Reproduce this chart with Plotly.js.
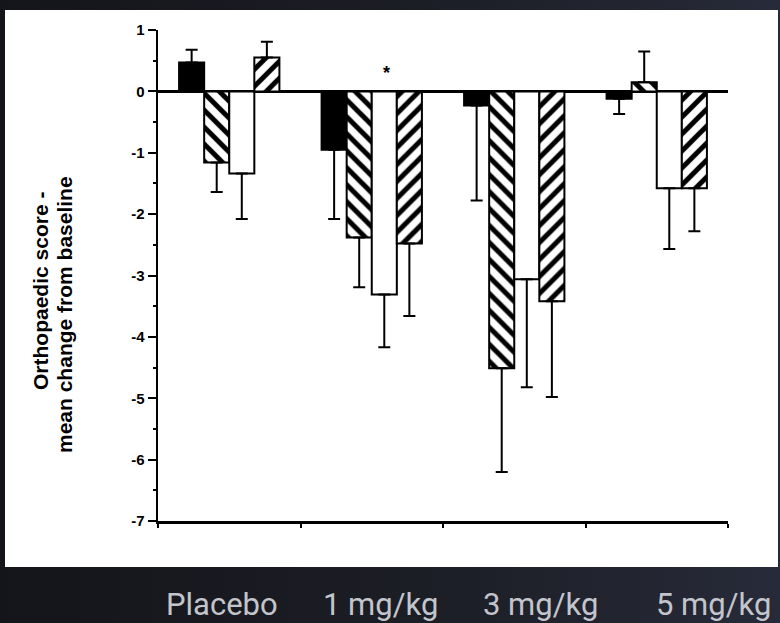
<!DOCTYPE html>
<html>
<head>
<meta charset="utf-8">
<script src="https://cdn.plot.ly/plotly-3.0.1.min.js"></script>
<style>
  html, body { margin: 0; padding: 0; }
  body {
    width: 780px; height: 623px; overflow: hidden;
    background: linear-gradient(to right, #14151a 0%, #1c1e26 55%, #272a38 100%);
  }
  #chart { width: 780px; height: 623px; }
</style>
</head>
<body>
<div id="chart"></div>
<script>
// Dose groups along the x axis
const categories = ['Placebo', '1 mg/kg', '3 mg/kg', '5 mg/kg'];

// Mean change from baseline in orthopaedic score, four bars per group
const solidValues   = [0.47, -0.95, -0.23, -0.12];
const solidErrors   = [0.21, 1.13, 1.55, 0.25];

const backHatchValues = [-1.16, -2.38, -4.51, 0.15];
const backHatchErrors = [0.48, 0.81, 1.69, 0.50];

const openValues    = [-1.34, -3.31, -3.06, -1.58];
const openErrors    = [0.74, 0.86, 1.76, 0.99];

const fwdHatchValues  = [0.55, -2.48, -3.42, -1.58];
const fwdHatchErrors  = [0.26, 1.18, 1.56, 0.70];

// y-axis ticks
const yTickValues = [1, 0, -1, -2, -3, -4, -5, -6, -7];
const yTickLabels = ['1', '0', '-1', '-2', '-3', '-4', '-5', '-6', '-7'];

// y-axis title, one entry per line
const yTitleLines = ['Orthopaedic score -', 'mean change from baseline'];

// Significance marker above the 1 mg/kg open bar
const starLabel = '*';
const starValue = 0.3;

// Error bars only extend away from zero
function errorBar(values, errs) {
  return {
    type: 'data',
    symmetric: false,
    array: values.map((v, i) => (v >= 0 ? errs[i] : 0)),
    arrayminus: values.map((v, i) => (v < 0 ? errs[i] : 0)),
    color: '#000',
    thickness: 2,
    width: 6
  };
}

function barTrace(values, errs, marker) {
  return {
    type: 'bar',
    x: categories,
    y: values,
    marker: Object.assign({ line: { color: '#000', width: 2 } }, marker),
    error_y: errorBar(values, errs),
    hoverinfo: 'x+y'
  };
}

const traces = [
  barTrace(solidValues, solidErrors, { color: '#000' }),
  barTrace(backHatchValues, backHatchErrors, {
    color: '#fff',
    pattern: { shape: '\\', size: 12, solidity: 0.42, fgcolor: '#000', bgcolor: '#fff', fillmode: 'replace' }
  }),
  barTrace(openValues, openErrors, { color: '#fff' }),
  barTrace(fwdHatchValues, fwdHatchErrors, {
    color: '#fff',
    pattern: { shape: '/', size: 12, solidity: 0.42, fgcolor: '#000', bgcolor: '#fff', fillmode: 'replace' }
  })
];

const W = 780, H = 623;
const M = { l: 158, r: 52, t: 30, b: 102 };
const plotW = W - M.l - M.r;
const plotH = H - M.t - M.b;
// pixel -> paper helpers for decorations outside the plot area
const px = x => (x - M.l) / plotW;
const py = y => (H - M.b - y) / plotH;

const labelCenters = [222, 380, 540, 713];

const annotations = categories.map((c, i) => ({
  text: c,
  xref: 'paper', yref: 'paper',
  x: px(labelCenters[i]), y: py(604),
  xanchor: 'center', yanchor: 'middle',
  showarrow: false,
  font: { family: 'Roboto, "Liberation Sans", sans-serif', size: 31, color: '#c3c5cc' }
}));

// the two title lines are set individually for tight line spacing
const titleX = [40, 64];
const titleY = [291, 314];
yTitleLines.forEach((line, i) => {
  annotations.push({
    text: line,
    xref: 'paper', yref: 'paper',
    x: px(titleX[i]), y: py(titleY[i]),
    xanchor: 'center', yanchor: 'middle',
    textangle: -90,
    showarrow: false,
    font: { family: '"Liberation Sans", Arial, sans-serif', size: 21, color: '#000', weight: 'bold' }
  });
});

annotations.push({
  text: starLabel,
  xref: 'x', yref: 'y',
  x: 1.1, y: starValue,
  showarrow: false,
  font: { family: '"Liberation Sans", Arial, sans-serif', size: 18, color: '#000', weight: 'bold' }
});

const layout = {
  width: W, height: H,
  margin: M,
  paper_bgcolor: 'rgba(0,0,0,0)',
  plot_bgcolor: '#fff',
  showlegend: false,
  barmode: 'group',
  bargap: 0.296,
  bargroupgap: 0,
  xaxis: {
    type: 'category',
    range: [-0.5, 3.5],
    showticklabels: false,
    showline: true, linecolor: '#000', linewidth: 2.5,
    ticks: 'outside', tickson: 'boundaries', ticklen: 4, tickwidth: 2, tickcolor: '#000',
    showgrid: false, zeroline: false, fixedrange: true
  },
  yaxis: {
    range: [-7, 1],
    tickvals: yTickValues,
    ticktext: yTickLabels,
    tickfont: { family: '"Liberation Sans", Arial, sans-serif', size: 15, color: '#000', weight: 'bold' },
    ticks: 'outside', ticklen: 8, tickwidth: 2, tickcolor: '#000',
    minor: { dtick: 0.5, ticks: 'outside', ticklen: 3, tickwidth: 2, tickcolor: '#000', showgrid: false },
    showline: true, linecolor: '#000', linewidth: 2.5,
    showgrid: false,
    zeroline: true, zerolinecolor: '#000', zerolinewidth: 2.5,
    fixedrange: true
  },
  shapes: [{
    type: 'rect', layer: 'below',
    xref: 'paper', yref: 'paper',
    x0: px(5), x1: px(778), y0: py(567), y1: py(10),
    fillcolor: '#fff', line: { width: 0 }
  }],
  annotations: annotations
};

Plotly.newPlot('chart', traces, layout, { displayModeBar: false, staticPlot: true });
</script>
</body>
</html>
